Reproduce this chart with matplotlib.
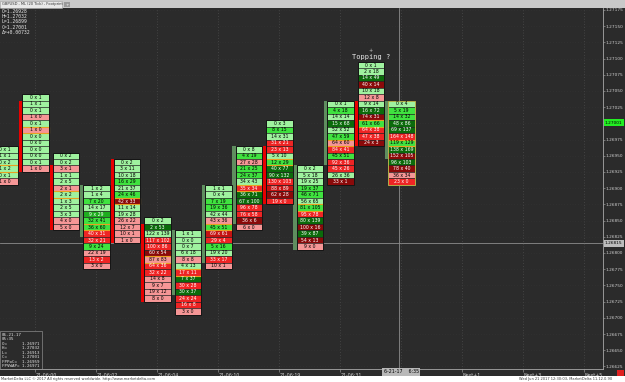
import matplotlib
matplotlib.use("Agg")
import matplotlib.pyplot as plt
from matplotlib.patches import Rectangle
from matplotlib.ticker import MultipleLocator, FormatStrFormatter
from matplotlib.transforms import blended_transform_factory

PIP = 0.0001

# top price level of every footprint bar (one row = 1 pip)
col_high = [1.2696, 1.2704, 1.2695, 1.2690, 1.2694, 1.2685, 1.2683,
            1.2690, 1.2696, 1.2700, 1.2693, 1.2703, 1.2709, 1.2703]

# open / close of each bar (drawn as the thin body strip on the left)
bar_open = [1.2692, 1.2703, 1.2693, 1.2683, 1.2694, 1.2684, 1.2674,
            1.2679, 1.2685, 1.2696, 1.2681, 1.2694, 1.2703, 1.2695]
bar_close = [1.2691, 1.2693, 1.2684, 1.2690, 1.2682, 1.2673, 1.2683,
             1.2690, 1.2696, 1.2688, 1.2693, 1.2703, 1.2697, 1.2703]

# bid x ask per price row, top to bottom
col_text = [
    ["0 x 1", "1 x 1", "0 x 2", "1 x 2", "0 x 1", "1 x 0"],
    ["0 x 1", "1 x 1", "0 x 1", "1 x 0", "0 x 1", "1 x 0", "0 x 0", "0 x 0",
     "0 x 0", "0 x 0", "0 x 1", "1 x 0"],
    ["0 x 2", "0 x 2", "3 x 1", "1 x 1", "2 x 5", "2 x 1", "2 x 2", "1 x 3",
     "2 x 5", "3 x 3", "4 x 0", "5 x 0"],
    ["1 x 2", "1 x 4", "7 x 20", "14 x 17", "9 x 29", "32 x 41", "36 x 60",
     "40 x 31", "32 x 21", "9 x 24", "22 x 19", "13 x 2", "3 x 0"],
    ["0 x 2", "3 x 11", "10 x 18", "16 x 29", "21 x 37", "24 x 46", "42 x 33",
     "11 x 14", "19 x 28", "26 x 22", "12 x 7", "10 x 1", "1 x 0"],
    ["0 x 2", "2 x 53", "122 x 139", "117 x 102", "100 x 86", "60 x 54",
     "87 x 83", "64 x 36", "32 x 22", "14 x 8", "9 x 7", "19 x 12", "8 x 0"],
    ["1 x 1", "0 x 0", "0 x 7", "6 x 18", "8 x 8", "4 x 13", "17 x 11",
     "7 x 37", "30 x 28", "30 x 37", "24 x 24", "16 x 8", "3 x 0"],
    ["1 x 1", "0 x 4", "7 x 19", "19 x 36", "42 x 44", "43 x 36", "45 x 51",
     "69 x 61", "29 x 4", "5 x 16", "19 x 20", "33 x 17", "10 x 1"],
    ["0 x 8", "4 x 19", "27 x 28", "21 x 25", "24 x 37", "34 x 43", "35 x 34",
     "36 x 71", "67 x 100", "96 x 78", "76 x 58", "36 x 6", "6 x 0"],
    ["0 x 3", "8 x 15", "14 x 31", "31 x 21", "23 x 13", "5 x 10", "12 x 29",
     "40 x 77", "90 x 132", "130 x 103", "88 x 89", "62 x 28", "19 x 0"],
    ["0 x 2", "5 x 18", "19 x 25", "19 x 37", "46 x 71", "56 x 65", "81 x 105",
     "95 x 78", "80 x 139", "100 x 16", "39 x 87", "54 x 13", "9 x 0"],
    ["0 x 1", "4 x 18", "14 x 14", "15 x 68", "52 x 52", "47 x 59", "64 x 60",
     "84 x 41", "45 x 51", "92 x 36", "45 x 26", "26 x 36", "33 x 1"],
    ["0 x 1", "2 x 18", "14 x 49", "40 x 14", "10 x 18", "12 x 8", "9 x 14",
     "16 x 72", "74 x 31", "61 x 66", "64 x 38", "47 x 38", "24 x 3"],
    ["0 x 4", "5 x 19", "14 x 32", "48 x 86", "69 x 137", "164 x 148",
     "119 x 129", "138 x 169", "152 x 105", "96 x 103", "78 x 40", "36 x 34",
     "23 x 0"],
]

# shade of each row: L/G/M/D greens light->dark, p/r/m/d reds light->dark
col_shade = ["LLLLLp", "LLLpLpLLLLLp", "LLpLLpLLLLpp", "LLGLMGGrrGprp",
             "LLLGLGdLLpppp", "LDLrrdprrpppp", "LLLLpLrDrDrrp", "LLGGLpGmrGLrp",
             "LGpGGLrDDrrdp", "LGLrrLGDDrmdr", "LLLGGLGrDdDdp", "LGLDLGprGrrLd",
             "LLDdLpLDdGrrd", "LGGDDrGDdDdpr"]

col_poc = [3, 5, 6, 6, 6, 6, 6, 6, 6, 6, 6, 6, 9, 6]

x_labels = ["21-06:00", "21-06:02", "21-06:04", "21-06:10", "21-06:19",
            "21-06:31", "", "Next+1", "Next+3", "Next+5"]

cursor_x = 12.92
cursor_price = 1.26815
last_close = 1.27001

shade_color = {"L": "#9ff29f", "G": "#3fe23f", "M": "#1fae1f", "D": "#0b6b0b",
               "p": "#f59696", "r": "#ee2424", "m": "#c41212", "d": "#8a0a0a"}
shade_text = {"L": "black", "G": "black", "M": "white", "D": "white",
              "p": "black", "r": "white", "m": "white", "d": "white"}

BG = "#2b2b2b"
W, H = 625, 382

fig = plt.figure(figsize=(W / 100, H / 100), dpi=100, facecolor=BG)
ax = fig.add_axes([0, 13 / H, 603 / W, 361 / H], facecolor=BG)

# top tab strip and white footer
fig.add_artist(Rectangle((0, 1 - 8 / H), 1, 8 / H, transform=fig.transFigure,
                         facecolor="#c9c9c9", edgecolor="none"))
fig.add_artist(Rectangle((0, 1 - 8 / H), 62 / W, 7 / H, transform=fig.transFigure,
                         facecolor="#e8e8e8", edgecolor="#a0a0a0", lw=0.4))
fig.add_artist(Rectangle((64 / W, 1 - 7 / H), 6 / W, 5 / H, transform=fig.transFigure,
                         facecolor="#9a9a9a", edgecolor="none"))
fig.text(2 / W, 1 - 4.5 / H, "GBPUSD - ML (20 Tick) - Footprint", fontsize=2.6,
         color="#333333", va="center")
fig.text(67 / W, 1 - 4.5 / H, "+", fontsize=3, color="white", va="center", ha="center")
fig.add_artist(Rectangle((0, 0), 1, 6 / H, transform=fig.transFigure,
                         facecolor="white", edgecolor="none"))
fig.text(1 / W, 3 / H, "MarketDelta LLC \u00a9 2017 All rights reserved worldwide. "
         "http://www.marketdelta.com", fontsize=2.6, color="#333333", va="center")
fig.text(612 / W, 3 / H, "Wed Jun 21 2017 12:30:03, MarketDelta 11.12.0.90",
         fontsize=2.6, color="#333333", va="center", ha="right")
fig.add_artist(Rectangle((617 / W, 6 / H), 7 / W, 6 / H, transform=fig.transFigure,
                         facecolor="#e02020", edgecolor="none"))

# footprint cells
for i, (top, texts, shades) in enumerate(zip(col_high, col_text, col_shade)):
    n = len(texts)
    prices = [top - k * PIP for k in range(n)]
    ax.bar([i] * n, [PIP] * n, bottom=[p - PIP / 2 for p in prices], width=0.88,
           color=[shade_color[s] for s in shades], edgecolor="#262626",
           linewidth=0.4, zorder=2)
    for p, t, s in zip(prices, texts, shades):
        ax.text(i, p, t, ha="center", va="center", fontsize=3.3,
                color=shade_text[s], zorder=4, clip_on=True)
    k = col_poc[i]
    ax.bar(i, PIP, bottom=prices[k] - PIP / 2, width=0.88, fill=False,
           edgecolor="#e8a020", linewidth=0.8, zorder=3)
    edge = "#b5b04a" if i == len(col_high) - 1 else "#151515"
    ax.bar(i, n * PIP, bottom=prices[-1] - PIP / 2, width=0.88, fill=False,
           edgecolor=edge, linewidth=0.7, zorder=3)
    # body strip
    lo, hi = min(bar_open[i], bar_close[i]), max(bar_open[i], bar_close[i])
    up = bar_close[i] >= bar_open[i]
    ax.bar(i - 0.49, hi - lo + PIP, bottom=lo - PIP / 2, width=0.1,
           color="#5f8e5f" if up else "#e80000", linewidth=0, zorder=2)

ax.text(12, 1.27097, "Topping ?", ha="center", va="bottom", fontsize=5,
        family="DejaVu Sans Mono", color="#e8e8e8", zorder=5)
ax.text(12, 1.27113, "+", ha="center", va="center", fontsize=3.5,
        color="#cccccc", zorder=5)

# crosshair
ax.axhline(cursor_price, color="#8c8c8c", lw=0.6, zorder=1)
ax.axvline(cursor_x, color="#8c8c8c", lw=0.6, zorder=1)

ax.set_xlim(-0.164, 19.61)
ax.set_ylim(1.26621, 1.27178)

# axes styling
for side in ["top", "left"]:
    ax.spines[side].set_visible(False)
for side in ["right", "bottom"]:
    ax.spines[side].set_color("#a8a8a8")
    ax.spines[side].set_linewidth(0.6)

ax.yaxis.tick_right()
ax.yaxis.set_major_locator(MultipleLocator(0.00025))
ax.yaxis.set_major_formatter(FormatStrFormatter("%.5f"))
ax.tick_params(axis="y", direction="out", length=1.5, width=0.4, pad=0.6,
               labelsize=3.1, labelcolor="#cfcfcf", color="#a8a8a8")

odd_cols = list(range(1, 20, 2))
ax.set_xticks(odd_cols)
ax.set_xticklabels(x_labels)
for lab in ax.get_xticklabels():
    lab.set_horizontalalignment("left")
ax.tick_params(axis="x", direction="out", length=2, width=0.4, pad=0.8,
               labelsize=3.4, labelcolor="#cfcfcf", color="#a8a8a8")

ax.grid(axis="x", color="#5a5a5a", lw=0.5, ls=(0, (1, 3)), zorder=0)
ax.grid(axis="y", color="#3a3a3a", lw=0.4, ls=(0, (1, 4)), zorder=0)

ymix = blended_transform_factory(ax.transAxes, ax.transData)
ax.text(1.003, last_close, "1.27001", transform=ymix, fontsize=3.1, va="center",
        ha="left", color="black", clip_on=False, zorder=6,
        bbox=dict(boxstyle="square,pad=0.3", facecolor="#22ee22", edgecolor="none"))
ax.text(1.003, cursor_price, "1.26815", transform=ymix, fontsize=3.1, va="center",
        ha="left", color="black", clip_on=False, zorder=6,
        bbox=dict(boxstyle="square,pad=0.3", facecolor="#bdbdbd", edgecolor="none"))
xmix = blended_transform_factory(ax.transData, ax.transAxes)
ax.text(13, -0.008, "6-21-17    6:35", transform=xmix, fontsize=3.4, va="center",
        ha="center", color="black", clip_on=False, zorder=6,
        bbox=dict(boxstyle="square,pad=0.3", facecolor="#b8b8b8", edgecolor="none"))

# info text, top left
fig.text(2 / W, 1 - 9 / H, "O=1.26928\nH=1.27032\nL=1.26899\nC=1.27001\n\u0394=+0.00732",
         fontsize=3.4, color="#e6e6e6", va="top", ha="left", linespacing=1.05,
         family="DejaVu Sans Mono")

# info box, bottom left
ax.add_patch(Rectangle((0, 0), 42 / 603, 38 / 361, transform=ax.transAxes,
                       facecolor=BG, edgecolor="#8a8a8a", lw=0.5, zorder=6))
ax.text(2 / 603, 36 / 361,
        "06-21-17\n05:35\nO=      1.26971\nH=      1.27032\nL=      1.26913\n"
        "C=      1.27001\nFPPoC=  1.26959\nFPVWAP= 1.26971",
        transform=ax.transAxes, fontsize=3.0, color="#e6e6e6", va="top",
        ha="left", linespacing=1.15, family="DejaVu Sans Mono", zorder=7)

fig.savefig("out.png", dpi=100, facecolor=BG)
